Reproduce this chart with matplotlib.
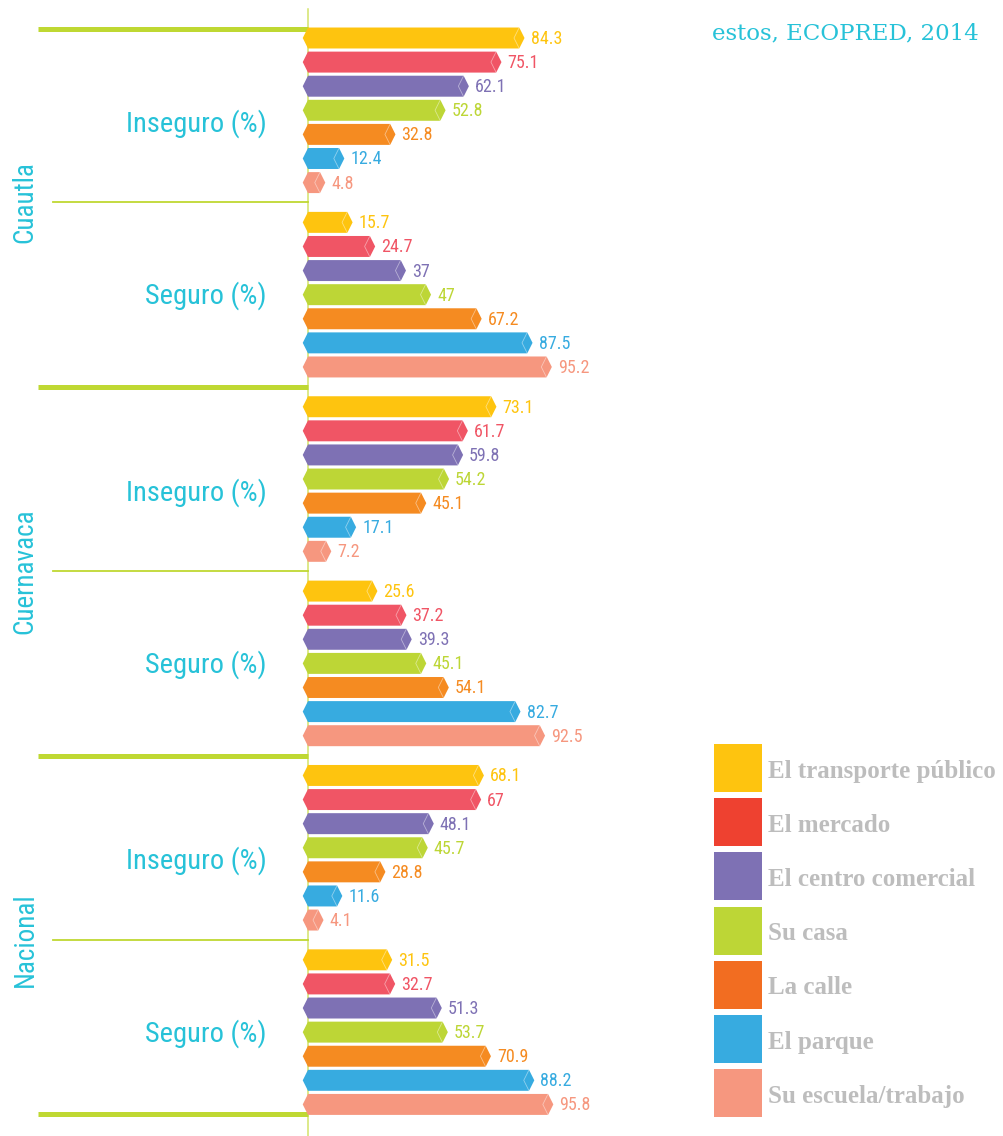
import matplotlib
matplotlib.use("Agg")
import matplotlib.pyplot as plt
from matplotlib.patches import Polygon, Rectangle

# Data
categories = ["El transporte público", "El mercado", "El centro comercial",
              "Su casa", "La calle", "El parque", "Su escuela/trabajo"]
regions = ["Cuautla", "Cuernavaca", "Nacional"]
cuautla_inseguro = [84.3, 75.1, 62.1, 52.8, 32.8, 12.4, 4.8]
cuautla_seguro = [15.7, 24.7, 37, 47, 67.2, 87.5, 95.2]
cuernavaca_inseguro = [73.1, 61.7, 59.8, 54.2, 45.1, 17.1, 7.2]
cuernavaca_seguro = [25.6, 37.2, 39.3, 45.1, 54.1, 82.7, 92.5]
nacional_inseguro = [68.1, 67, 48.1, 45.7, 28.8, 11.6, 4.1]
nacional_seguro = [31.5, 32.7, 51.3, 53.7, 70.9, 88.2, 95.8]

bar_colors = ["#fec40f", "#f05565", "#7e71b4", "#bdd636", "#f58b21", "#37abe0", "#f6977f"]
legend_colors = ["#fec40f", "#ee4130", "#7e71b4", "#bdd636", "#f26d21", "#37abe0", "#f6977f"]
CYAN = "#27c2d8"
LIME = "#bfd832"
NARROW = dict(family=["Roboto Condensed", "DejaVu Sans"], fontstretch="condensed")

blocks = [cuautla_inseguro, cuautla_seguro, cuernavaca_inseguro,
          cuernavaca_seguro, nacional_inseguro, nacional_seguro]

# Layout: 1 px = 1/2.506 value units in x, rows of 24.1 px in y
X0_PX, XSCALE = 308, 2.506
Y0_PX, ROW = 38, 24.1
STRIDE = 7.65
BAR_H = 0.87
TIP = 2.1

fig = plt.figure(figsize=(10.04, 11.36), dpi=100)
ax = fig.add_axes([0, 0, 1, 1])
ax.axis("off")
ax.set_xlim(-X0_PX / XSCALE, (1004 - X0_PX) / XSCALE)
ax.set_ylim((1136 - Y0_PX) / ROW, -Y0_PX / ROW)


def px_x(px):
    return (px - X0_PX) / XSCALE


def px_y(py):
    return (py - Y0_PX) / ROW


# vertical axis line
ax.plot([0, 0], [px_y(9), px_y(1136)], color="#d3e36a", lw=1.1, zorder=1)

for b, vals in enumerate(blocks):
    for j, v in enumerate(vals):
        y = b * STRIDE + j
        h = BAR_H / 2
        pts = [(-TIP, y), (0, y - h), (v, y - h), (v + TIP, y), (v, y + h), (0, y + h)]
        ax.add_patch(Polygon(pts, closed=True, facecolor=bar_colors[j],
                             edgecolor="none", zorder=2))
        ax.plot([v, v - TIP, v], [y - h, y, y + h], color="white", lw=0.6,
                alpha=0.45, zorder=3)
        ax.text(v + TIP + 2.4, y + 0.04, f"{v:g}", color=bar_colors[j],
                fontsize=13, ha="left", va="center", zorder=4, **NARROW)

# separators and labels
for r in range(3):
    top = 2 * r * STRIDE
    mid = top + 6 + (STRIDE - 6) / 2
    # thin line between Inseguro and Seguro
    ax.plot([px_x(53), 0], [mid, mid], color=LIME, lw=1.3, zorder=1)
    ax.text(px_x(267), top + 3.55, "Inseguro (%)", color=CYAN, fontsize=20.5,
            ha="right", va="center", **NARROW)
    ax.text(px_x(267), top + STRIDE + 3.05, "Seguro (%)", color=CYAN, fontsize=20.5,
            ha="right", va="center", **NARROW)
    ax.text(px_x(25), mid, regions[r], color=CYAN, fontsize=19.5,
            rotation=90, ha="center", va="center", **NARROW)

# thick lines
thick_y = [-BAR_H / 2 + 0.05]
for r in range(1, 3):
    thick_y.append(2 * r * STRIDE - (STRIDE - 6) / 2)
thick_y.append(5 * STRIDE + 6 + BAR_H / 2 - 0.05)
for ty in thick_y:
    ax.plot([px_x(38), 0], [ty, ty], color=LIME, lw=3.6, solid_capstyle="butt", zorder=1)

# legend
for i, (cat, col) in enumerate(zip(categories, legend_colors)):
    top_px = 744 + i * 54.2
    ax.add_patch(Rectangle((px_x(714), px_y(top_px)), 48 / XSCALE, 48 / ROW,
                           facecolor=col, edgecolor="none"))
    ax.text(px_x(768), px_y(top_px + 27), cat, color="#bdbdbd", fontsize=18,
            fontweight="bold", family=["Liberation Serif", "DejaVu Serif"],
            ha="left", va="center")

# source note (partially cut off at the top)
ax.text(px_x(712), px_y(39), "estos, ECOPRED, 2014", color=CYAN, fontsize=16.5,
        family=["DejaVu Serif"], ha="left", va="baseline")

fig.savefig("out.png", dpi=100)
